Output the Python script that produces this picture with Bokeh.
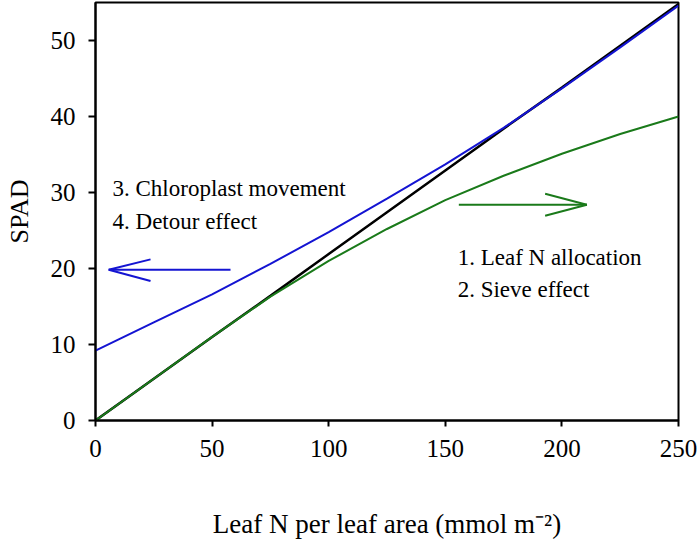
from bokeh.plotting import figure
from bokeh.models import Range1d, Label, FixedTicker
from bokeh.embed import file_html
from bokeh.resources import INLINE

# ---- data ----
leaf_n = [0, 25, 50, 75, 100, 125, 150, 175, 200, 225, 250]
spad_black = [0, 5.5, 11.0, 16.4, 21.9, 27.4, 32.9, 38.4, 43.8, 49.3, 54.8]
spad_blue = [9.2, 12.9, 16.6, 20.6, 24.8, 29.2, 33.7, 38.5, 43.7, 49.1, 54.6]
spad_green = [0, 5.5, 11.0, 16.3, 21.0, 25.2, 29.0, 32.2, 35.1, 37.7, 40.0]

x_ticks = [0, 50, 100, 150, 200, 250]
y_ticks = [0, 10, 20, 30, 40, 50]

x_title = "Leaf N per leaf area (mmol m\u207b\u00b2)"
y_title = "SPAD"
left_notes = ["3. Chloroplast movement", "4. Detour effect"]
right_notes = ["1. Leaf N allocation", "2. Sieve effect"]

# arrows (annotation geometry, data units): shaft + two barbs
blue_arrow_x0 = [57.9, 5.66, 5.66]
blue_arrow_y0 = [19.83, 19.83, 19.83]
blue_arrow_x1 = [5.66, 23.6, 23.6]
blue_arrow_y1 = [19.83, 21.2, 18.35]
green_arrow_x0 = [155.8, 210.7, 210.7]
green_arrow_y0 = [28.39, 28.39, 28.39]
green_arrow_x1 = [210.7, 192.8, 192.8]
green_arrow_y1 = [28.39, 29.83, 26.95]

FONT = "Liberation Serif"
BLUE = "#1414d2"
GREEN = "#1a7a1a"

p = figure(width=700, height=541, output_backend="svg", toolbar_location=None,
           x_range=Range1d(0, 250), y_range=Range1d(0, 55.0),
           min_border_left=95, min_border_right=22, min_border_top=2,
           min_border_bottom=119)
p.background_fill_color = "white"
p.border_fill_color = "white"
p.outline_line_color = "black"
p.outline_line_width = 2
p.xgrid.grid_line_color = None
p.ygrid.grid_line_color = None

for ax in (p.xaxis, p.yaxis):
    ax.axis_line_color = "black"
    ax.axis_line_width = 2
    ax.major_tick_line_width = 2
    ax.major_tick_in = 0
    ax.minor_tick_line_color = None
    ax.major_label_text_font = FONT
    ax.major_label_text_font_size = "25px"
    ax.major_label_text_color = "black"
    ax.major_label_standoff = 13
    ax.axis_label_text_font = FONT
    ax.axis_label_text_font_style = "normal"
    ax.axis_label_text_color = "black"
p.xaxis.major_tick_out = 6
p.yaxis.major_tick_out = 7
p.xaxis.ticker = FixedTicker(ticks=x_ticks)
p.yaxis.ticker = FixedTicker(ticks=y_ticks)
p.xaxis.axis_label = x_title
p.xaxis.axis_label_text_font_size = "27px"
p.xaxis.axis_label_standoff = 49
p.yaxis.axis_label = y_title
p.yaxis.axis_label_text_font_size = "26px"
p.yaxis.axis_label_standoff = 14

p.line(leaf_n, spad_black, line_color="black", line_width=2.5)
p.line(leaf_n, spad_green, line_color=GREEN, line_width=2)
p.line(leaf_n, spad_blue, line_color=BLUE, line_width=2)

p.segment(blue_arrow_x0, blue_arrow_y0, blue_arrow_x1, blue_arrow_y1,
          line_color=BLUE, line_width=2)
p.segment(green_arrow_x0, green_arrow_y0, green_arrow_x1, green_arrow_y1,
          line_color=GREEN, line_width=2)

def lab(x, y, text, size):
    p.add_layout(Label(x=x, y=y, text=text, text_font=FONT,
                       text_font_size=size, text_color="black",
                       text_align="left", text_baseline="alphabetic"))

lab(7.3, 30.55, left_notes[0], "23px")
lab(7.3, 26.22, left_notes[1], "23px")
lab(155.3, 21.4, right_notes[0], "23px")
lab(155.3, 17.25, right_notes[1], "23px")

open("out.html", "w").write(file_html(p, INLINE))
